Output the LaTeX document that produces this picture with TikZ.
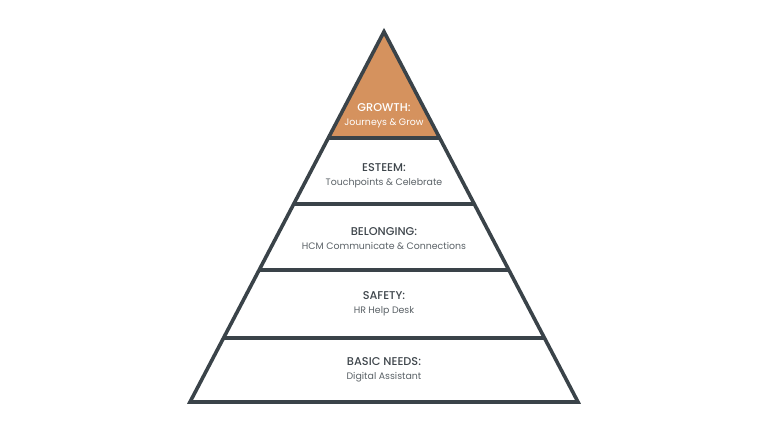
\documentclass[tikz,border=0pt]{standalone}
\usepackage{fontspec}
\setmainfont{Poppins}[BoldFont={Poppins Medium}]
\usepackage{tikz}
\usetikzlibrary{positioning}
\definecolor{pSlate}{HTML}{3A4349}
\definecolor{pOrange}{HTML}{D5925E}
\definecolor{pText}{HTML}{3F464C}
\definecolor{pSub}{HTML}{5A6166}

\begin{document}
\begin{tikzpicture}[x=1pt, y=-1pt,
      lvl/.style={draw=pSlate, line width=3.6pt, line join=miter},
      ttl/.style={text=pText, font=\fontsize{11.3}{13}\selectfont\bfseries, inner sep=1pt},
      sub/.style={text=pSub, font=\fontsize{9.4}{11}\selectfont, inner sep=1pt}]
    \useasboundingbox (0,0) rectangle (768,432);
    % levels, top to bottom
    \fill[pOrange] (384,31.7) -- (439.7,138) -- (328.3,138) -- cycle;
    \draw[lvl] (328.3,138) -- (439.7,138);
    \draw[lvl] (293.7,204) -- (474.3,204);
    \draw[lvl] (259.1,270) -- (508.9,270);
    \draw[lvl] (223.4,338) -- (544.6,338);
    \draw[lvl] (384,31.7) -- (578,402) -- (190,402) -- cycle;
    % labels
    \node[ttl, text=white] (growth) at (384,108) {GROWTH:};
    \node[sub, text=white, below=4pt of growth] (growthsub) {Journeys \& Grow};
    \node[ttl] (esteem) at (384,168) {ESTEEM:};
    \node[sub, below=4pt of esteem] (esteemsub) {Touchpoints \& Celebrate};
    \node[ttl] (belong) at (384,232) {BELONGING:};
    \node[sub, below=4pt of belong] (belongsub) {HCM Communicate \& Connections};
    \node[ttl] (safety) at (384,296) {SAFETY:};
    \node[sub, below=4pt of safety] (safetysub) {HR Help Desk};
    \node[ttl] (basic) at (384,362) {BASIC NEEDS:};
    \node[sub, below=4pt of basic] (basicsub) {Digital Assistant};
  \end{tikzpicture}
\end{document}
